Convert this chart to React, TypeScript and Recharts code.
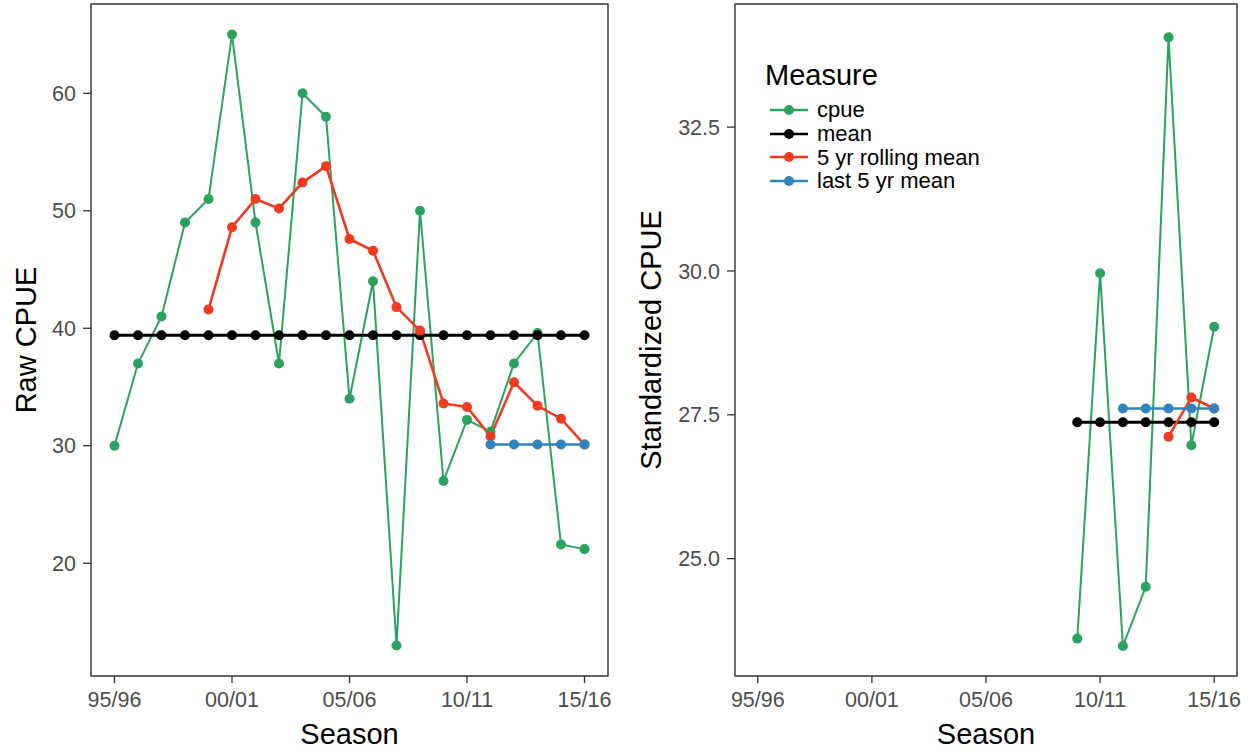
import React from "react";
import { Legend, Line, LineChart, ReferenceArea, XAxis, YAxis } from "recharts";

const seasons = [
  "95/96", "96/97", "97/98", "98/99", "99/00", "00/01", "01/02", "02/03", "03/04", "04/05", "05/06",
  "06/07", "07/08", "08/09", "09/10", "10/11", "11/12", "12/13", "13/14", "14/15", "15/16",
];
const seasonTicks = [0, 5, 10, 15, 20];

// raw cpue panel
const rawCpue = [30, 37, 41, 49, 51, 65, 49, 37, 60, 58, 34, 44, 13, 50, 27, 32.2, 31.2, 37, 39.6, 21.6, 21.2];
const rawMean = [
  39.4, 39.4, 39.4, 39.4, 39.4, 39.4, 39.4, 39.4, 39.4, 39.4, 39.4,
  39.4, 39.4, 39.4, 39.4, 39.4, 39.4, 39.4, 39.4, 39.4, 39.4,
];
const rawRolling = [
  null, null, null, null, 41.6, 48.6, 51.0, 50.2, 52.4, 53.8, 47.6,
  46.6, 41.8, 39.8, 33.6, 33.3, 30.8, 35.4, 33.4, 32.3, 30.1,
];
const rawLast5 = [
  null, null, null, null, null, null, null, null, null, null, null,
  null, null, null, null, null, 30.1, 30.1, 30.1, 30.1, 30.1,
];
const rawTicks = [20, 30, 40, 50, 60];

// standardized cpue panel
const stdCpue = [
  null, null, null, null, null, null, null, null, null, null, null,
  null, null, null, 23.61, 29.96, 23.48, 24.51, 34.06, 26.97, 29.03,
];
const stdMean = [
  null, null, null, null, null, null, null, null, null, null, null,
  null, null, null, 27.37, 27.37, 27.37, 27.37, 27.37, 27.37, 27.37,
];
const stdRolling = [
  null, null, null, null, null, null, null, null, null, null, null,
  null, null, null, null, null, null, null, 27.12, 27.8, 27.61,
];
const stdLast5 = [
  null, null, null, null, null, null, null, null, null, null, null,
  null, null, null, null, null, 27.61, 27.61, 27.61, 27.61, 27.61,
];
const stdTicks = [25, 27.5, 30, 32.5];

const measures = [
  { key: "cpue", name: "cpue", color: "#2ca25f", width: 2 },
  { key: "mean", name: "mean", color: "#000000", width: 3 },
  { key: "rolling", name: "5 yr rolling mean", color: "#f03b20", width: 2.6 },
  { key: "last5", name: "last 5 yr mean", color: "#3182bd", width: 2.6 },
];

const rawData = seasons.map((s, i) => ({
  idx: i,
  season: s,
  cpue: rawCpue[i],
  mean: rawMean[i],
  rolling: rawRolling[i],
  last5: rawLast5[i],
}));

const stdData = seasons.map((s, i) => ({
  idx: i,
  season: s,
  cpue: stdCpue[i],
  mean: stdMean[i],
  rolling: stdRolling[i],
  last5: stdLast5[i],
}));

const font = "'Liberation Sans', Arial, sans-serif";
const tickStyle = { fill: "#4d4d4d", fontSize: 21.5, fontFamily: font };
const titleStyle = { fill: "#000", fontSize: 29, fontFamily: font, textAnchor: "middle" as const };
const frame = "#333333";

function MeasureLegend({ payload }: any) {
  // keep the factor order, not the alphabetical one
  const items = measures
    .map((m) => (payload || []).find((p: any) => p.value === m.name))
    .filter(Boolean);
  return (
    <div style={{ fontFamily: font, color: "#000" }}>
      <div style={{ fontSize: 29, height: 32, lineHeight: "32px", marginBottom: 7 }}>Measure</div>
      {items.map((entry: any) => (
        <div key={entry.value} style={{ display: "flex", alignItems: "center", height: 23.8 }}>
          <svg width={38} height={22} style={{ marginLeft: 5 }}>
            <line x1={0} x2={38} y1={11} y2={11} stroke={entry.color} strokeWidth={2.5} />
            <circle cx={19} cy={11} r={5} fill={entry.color} />
          </svg>
          <span style={{ marginLeft: 9, fontSize: 22, lineHeight: "23.8px" }}>{entry.value}</span>
        </div>
      ))}
    </div>
  );
}

function Panel({
  data,
  domain,
  ticks,
  title,
  yAxisWidth,
  plotWidth,
  rightMargin,
  titleOffset,
  digits,
  legend,
}: {
  data: Array<Record<string, any>>;
  domain: [number, number];
  ticks: number[];
  title: string;
  yAxisWidth: number;
  plotWidth: number;
  rightMargin: number;
  titleOffset: number;
  digits: number;
  legend?: boolean;
}) {
  return (
    <LineChart
      width={yAxisWidth + plotWidth + rightMargin}
      height={754}
      data={data}
      margin={{ top: 4, right: rightMargin, bottom: 0, left: 0 }}
    >
      <XAxis
        type="number"
        dataKey="idx"
        domain={[-1, 21]}
        ticks={seasonTicks}
        interval={0}
        allowDataOverflow
        tickFormatter={(v) => seasons[v]}
        height={78}
        axisLine={false}
        tickSize={7}
        tickMargin={9}
        tickLine={{ stroke: frame, strokeWidth: 1.3 }}
        tick={tickStyle}
        label={{ value: "Season", position: "insideBottom", offset: 10, style: titleStyle }}
      />
      <YAxis
        type="number"
        domain={domain}
        ticks={ticks}
        interval={0}
        allowDataOverflow
        tickFormatter={(v) => v.toFixed(digits)}
        width={yAxisWidth}
        axisLine={false}
        tickSize={8}
        tickMargin={7}
        tickLine={{ stroke: frame, strokeWidth: 1.3 }}
        tick={tickStyle}
        label={{ value: title, angle: -90, position: "insideLeft", offset: titleOffset, style: titleStyle }}
      />
      {measures.map((m) => (
        <Line
          key={m.key}
          type="linear"
          dataKey={m.key}
          name={m.name}
          stroke={m.color}
          strokeWidth={m.width}
          dot={{ r: 5, fill: m.color, stroke: m.color, strokeWidth: 0 }}
          activeDot={false}
          isAnimationActive={false}
        />
      ))}
      <ReferenceArea
        x1={-1}
        x2={21}
        y1={domain[0]}
        y2={domain[1]}
        fill="none"
        fillOpacity={0}
        stroke={frame}
        strokeWidth={1.4}
        ifOverflow="visible"
      />
      {legend && (
        <Legend
          layout="vertical"
          align="center"
          verticalAlign="middle"
          wrapperStyle={{ left: 135, top: 59, width: 280 }}
          content={<MeasureLegend />}
        />
      )}
    </LineChart>
  );
}

export default function App() {
  return (
    <div style={{ position: "absolute", left: 0, top: 0, width: 1250, height: 754, background: "#fff" }}>
      <div style={{ position: "absolute", left: 0, top: 0 }}>
        <Panel
          data={rawData}
          domain={[10.4, 67.6]}
          ticks={rawTicks}
          title="Raw CPUE"
          yAxisWidth={91}
          plotWidth={517}
          rightMargin={12}
          titleOffset={26}
          digits={0}
        />
      </div>
      <div style={{ position: "absolute", left: 630, top: 0 }}>
        <Panel
          data={stdData}
          domain={[22.96, 34.64]}
          ticks={stdTicks}
          title="Standardized CPUE"
          yAxisWidth={105}
          plotWidth={502}
          rightMargin={13}
          titleOffset={21}
          digits={1}
          legend
        />
      </div>
    </div>
  );
}
